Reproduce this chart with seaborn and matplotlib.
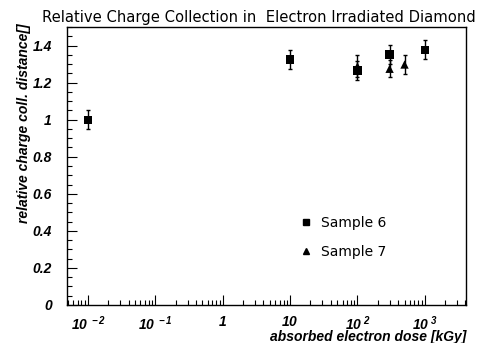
import matplotlib
matplotlib.use("Agg")
import matplotlib.pyplot as plt
import matplotlib.ticker as mticker
from matplotlib.lines import Line2D
import seaborn as sns
import pandas as pd

# data
s6_dose = [0.01, 10, 100, 300, 1000]
s6_val = [1.00, 1.325, 1.265, 1.352, 1.378]
s6_err = [0.05, 0.05, 0.05, 0.05, 0.05]
s7_dose = [100, 300, 500]
s7_val = [1.288, 1.275, 1.298]
s7_err = [0.06, 0.045, 0.05]
labels = ["Sample 6", "Sample 7"]
title = "Relative Charge Collection in  Electron Irradiated Diamond"
xticks = [0.01, 0.1, 1, 10, 100, 1000]
xticklabels = [r"$10^{\ -2}$", r"$10^{\ -1}$", r"$1$", r"$10$", r"$10^{\ 2}$", r"$10^{\ 3}$"]
yticks = [0, 0.2, 0.4, 0.6, 0.8, 1.0, 1.2, 1.4]
yticklabels = ["0", "0.2", "0.4", "0.6", "0.8", "1", "1.2", "1.4"]

sns.set_style("white")
plt.rcParams['font.family'] = ['Liberation Sans', 'DejaVu Sans']
plt.rcParams['mathtext.fontset'] = 'custom'
plt.rcParams['mathtext.rm'] = 'Liberation Sans:italic:bold'
plt.rcParams['mathtext.it'] = 'Liberation Sans:italic:bold'
plt.rcParams['mathtext.bf'] = 'Liberation Sans:italic:bold'
plt.rcParams['text.color'] = 'black'
plt.rcParams['axes.labelcolor'] = 'black'
plt.rcParams['xtick.color'] = 'black'
plt.rcParams['ytick.color'] = 'black'

df = pd.DataFrame({
    "dose": s6_dose + s7_dose,
    "val": s6_val + s7_val,
    "err": s6_err + s7_err,
    "sample": [labels[0]] * len(s6_dose) + [labels[1]] * len(s7_dose),
})

fig = plt.figure(figsize=(4.83, 3.43), dpi=100)
ax = fig.add_axes([0.139, 0.111, 0.826, 0.810])

for lab in labels:
    d = df[df["sample"] == lab]
    ax.errorbar(d["dose"], d["val"], yerr=d["err"], fmt="none", ecolor="black",
                elinewidth=1.0, capsize=1.5, capthick=1.0, zorder=2)

sns.scatterplot(data=df, x="dose", y="val", style="sample",
                markers={labels[0]: "s", labels[1]: "^"}, color="black",
                s=36, edgecolor="black", linewidth=0, ax=ax, zorder=3, legend=False)

ax.set_xscale("log")
ax.set_xlim(0.0049, 4100)
ax.set_ylim(0, 1.5)

ax.set_xticks(xticks)
ax.set_xticklabels(xticklabels, fontsize=10)
ax.xaxis.set_minor_locator(mticker.LogLocator(base=10, subs=range(2, 10), numticks=20))
ax.xaxis.set_minor_formatter(mticker.NullFormatter())
ax.set_yticks(yticks)
ax.set_yticklabels(yticklabels, fontsize=10, fontweight="bold", fontstyle="italic")
ax.yaxis.set_minor_locator(mticker.MultipleLocator(0.05))

ax.tick_params(axis="both", which="both", bottom=True, left=True, top=False, right=False)
ax.tick_params(axis="both", which="major", direction="in", length=7, width=0.8,
               color="black")
ax.tick_params(axis="both", which="minor", direction="in", length=3.5, width=0.8,
               color="black")
ax.tick_params(axis="x", which="major", pad=7)
ax.tick_params(axis="y", which="major", pad=11)

for sp in ax.spines.values():
    sp.set_color("black")
    sp.set_linewidth(1.0)

ax.set_xlabel("absorbed electron dose [kGy]", fontsize=10, fontweight="bold",
              fontstyle="italic", loc="right", labelpad=-2)
ax.set_ylabel("relative charge coll. distance[]", fontsize=10, fontweight="bold",
              fontstyle="italic", loc="top")
ax.yaxis.set_label_coords(-0.09, 1.014)
fig.text(0.984, 0.950, title, ha="right", va="center", fontsize=10.6,
         family=["DejaVu Sans"], color="black")

# legend
handles = [Line2D([], [], marker="s", color="black", ls="none", markersize=5),
           Line2D([], [], marker="^", color="black", ls="none", markersize=5)]
leg = ax.legend(handles, labels, loc="upper left", bbox_to_anchor=(0.55, 0.365),
                frameon=False, prop={"family": "DejaVu Sans", "size": 10},
                handletextpad=0.6, labelspacing=1.05, handlelength=1.0)

fig.savefig("out.png", dpi=100)
